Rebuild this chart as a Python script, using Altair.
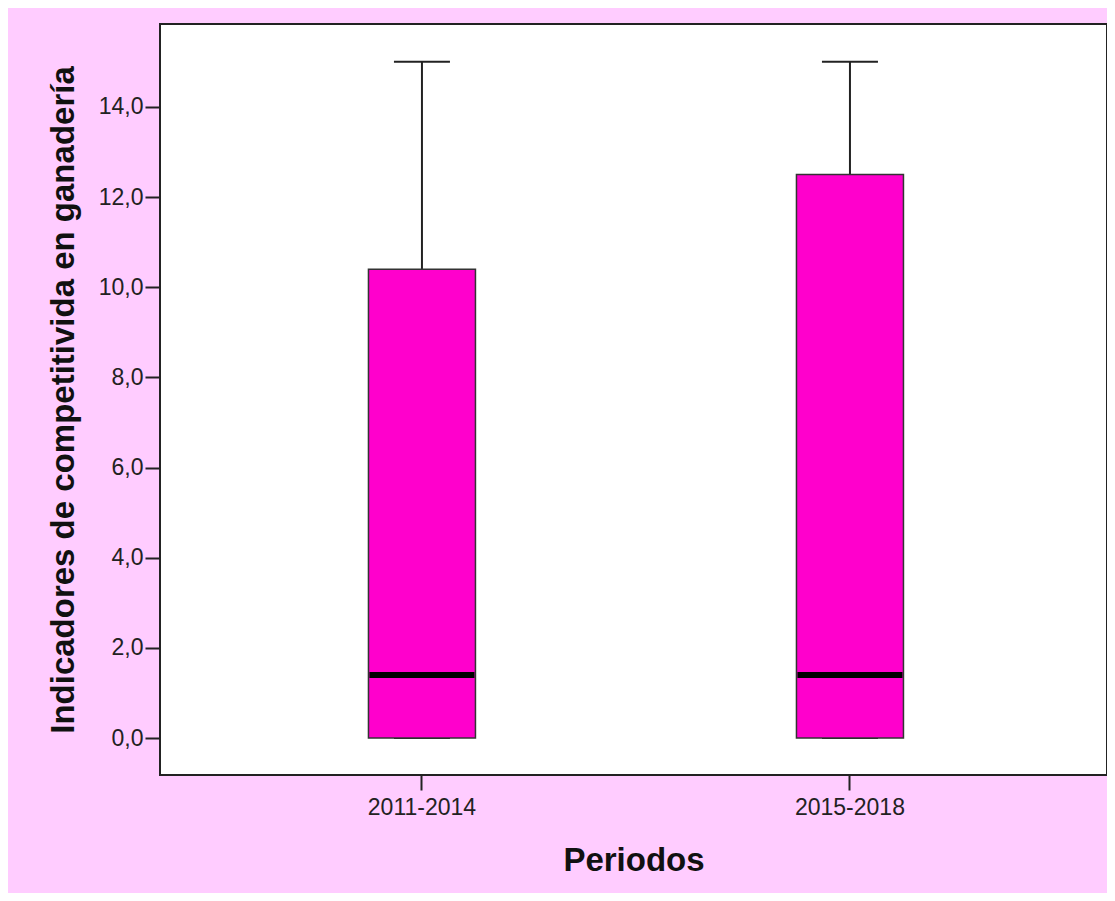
import altair as alt
import pandas as pd

# Data
periodos = ["2011-2014", "2015-2018"]
minimo = [0.0, 0.0]
q1 = [0.0, 0.0]
mediana = [1.4, 1.4]
q3 = [10.4, 12.5]
maximo = [15.0, 15.0]
y_ticks = [0, 2, 4, 6, 8, 10, 12, 14]

df = pd.DataFrame({
    "Periodos": periodos,
    "min": minimo,
    "q1": q1,
    "med": mediana,
    "q3": q3,
    "max": maximo,
})

FONT = "Arial, Liberation Sans, sans-serif"

x_enc = alt.X(
    "Periodos:N",
    sort=periodos,
    scale=alt.Scale(paddingInner=0, paddingOuter=0.1063, align=0.527),
    axis=alt.Axis(
        title="Periodos",
        labelAngle=0,
        labelFontSize=23,
        labelFont=FONT,
        labelColor="#222222",
        labelPadding=6,
        tickSize=15,
        tickWidth=2,
        tickColor="#222222",
        domain=False,
        titleFont=FONT,
        titleFontSize=33,
        titleFontWeight="bold",
        titleColor="#111111",
        titleBaseline="alphabetic",
        titleY=95,
    ),
)

y_scale = alt.Scale(domain=[-0.82, 15.84], nice=False, zero=False)
y_axis = alt.Axis(
    title="Indicadores de competitivida en ganadería",
    values=y_ticks,
    labelExpr="replace(format(datum.value, '.1f'), '.', ',')",
    labelFontSize=23,
    labelFont=FONT,
    labelColor="#222222",
    labelPadding=2,
    tickSize=15,
    tickWidth=2,
    tickColor="#222222",
    grid=False,
    domain=False,
    titleFont=FONT,
    titleFontSize=33,
    titleFontWeight="bold",
    titleColor="#111111",
    titleBaseline="alphabetic",
    titleX=-87,
)

base = alt.Chart(df)
xs = alt.X("Periodos:N", sort=periodos)

whisker_up = base.mark_rule(color="#222222", strokeWidth=2).encode(
    x=x_enc,
    y=alt.Y("q3:Q", scale=y_scale, axis=y_axis),
    y2="max:Q",
)
whisker_low = base.mark_rule(color="#222222", strokeWidth=2).encode(
    x=xs,
    y=alt.Y("min:Q", scale=y_scale),
    y2="q1:Q",
)
cap_top = base.mark_tick(color="#222222", thickness=2, size=56, orient="horizontal", opacity=1).encode(
    x=xs,
    y=alt.Y("max:Q", scale=y_scale),
)
cap_low = base.mark_tick(color="#222222", thickness=2, size=56, orient="horizontal", opacity=1).encode(
    x=xs,
    y=alt.Y("min:Q", scale=y_scale),
)
box = base.mark_bar(color="#FF00CC", stroke="#333333", strokeWidth=1.5, size=107, opacity=1).encode(
    x=xs,
    y=alt.Y("q1:Q", scale=y_scale),
    y2="q3:Q",
)
median = base.mark_tick(color="#000000", thickness=6, size=105, orient="horizontal", opacity=1).encode(
    x=xs,
    y=alt.Y("med:Q", scale=y_scale),
)

chart = (
    alt.layer(whisker_up, whisker_low, cap_top, cap_low, box, median)
    .properties(
        width=947,
        height=751,
        background="#FFCCFF",
        padding={"left": 152, "top": 16, "right": 0, "bottom": 118},
        autosize=alt.AutoSizeParams(type="none"),
    )
    .configure_view(fill="#FFFFFF", stroke="#222222", strokeWidth=2)
)

chart.save("out.html", embed_options={"renderer": "svg", "actions": False})
